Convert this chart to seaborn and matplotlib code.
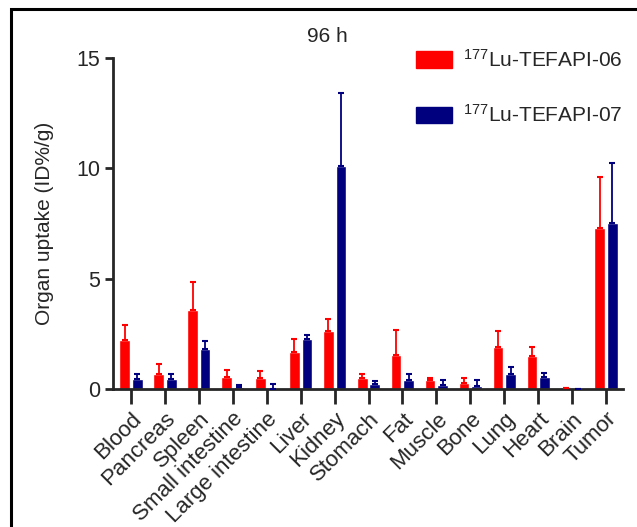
import matplotlib
matplotlib.use("Agg")
import matplotlib.pyplot as plt
import seaborn as sns
import pandas as pd
import numpy as np
from matplotlib.patches import Rectangle

organs = ["Blood", "Pancreas", "Spleen", "Small intestine", "Large intestine",
          "Liver", "Kidney", "Stomach", "Fat", "Muscle", "Bone", "Lung",
          "Heart", "Brain", "Tumor"]
series_names = [r"$^{177}$Lu-TEFAPI-06", r"$^{177}$Lu-TEFAPI-07"]
mean_06 = [2.2, 0.68, 3.6, 0.54, 0.48, 1.69, 2.62, 0.48, 1.52, 0.42, 0.29, 1.9, 1.48, 0.05, 7.3]
sd_06 = [0.7, 0.45, 1.25, 0.32, 0.35, 0.58, 0.54, 0.22, 1.17, 0.06, 0.22, 0.73, 0.42, 0.0, 2.3]
mean_07 = [0.45, 0.45, 1.82, 0.1, 0.02, 2.27, 10.12, 0.22, 0.42, 0.2, 0.13, 0.68, 0.56, 0.01, 7.52]
sd_07 = [0.25, 0.25, 0.36, 0.08, 0.19, 0.17, 3.31, 0.15, 0.28, 0.2, 0.29, 0.3, 0.18, 0.0, 2.72]
colors = ["#FF0000", "#00007F"]
yticks = [0, 5, 10, 15]

df = pd.DataFrame({
    "organ": organs * 2,
    "series": [series_names[0]] * len(organs) + [series_names[1]] * len(organs),
    "value": mean_06 + mean_07,
})

sns.set_style("ticks")
plt.rcParams["font.family"] = ["Liberation Sans", "DejaVu Sans"]
plt.rcParams["mathtext.default"] = "regular"

fig = plt.figure(figsize=(6.37, 5.27), dpi=100)
ax = fig.add_axes([113 / 637, 1 - 389 / 527, (623 - 113) / 637, (389 - 58) / 527])

sns.barplot(data=df, x="organ", y="value", hue="series", order=organs,
            hue_order=series_names, palette=colors, errorbar=None,
            width=0.74, gap=0.15, saturation=1, ax=ax, legend=True)

# upward-only error bars drawn at the bar positions
n = len(organs)
bars = [p for p in ax.patches if p.get_height() is not None][: 2 * n]
for k, (sds, col) in enumerate(zip([sd_06, sd_07], colors)):
    group = bars[k * n:(k + 1) * n]
    xs = [b.get_x() + b.get_width() / 2 for b in group]
    ys = [b.get_height() for b in group]
    ax.errorbar(xs, ys, yerr=[np.zeros(n), sds], fmt="none", ecolor=col,
                elinewidth=1.3, capsize=2.5, capthick=1.5, zorder=3)

ax.set_xlim(-0.53, n - 0.5)
ax.set_ylim(0, 15)
ax.set_yticks(yticks)
ax.set_xlabel("")
ax.set_ylabel("Organ uptake (ID%/g)", fontsize=15, labelpad=16)
sns.despine(ax=ax)
for s in ["left", "bottom"]:
    ax.spines[s].set_linewidth(2)
ax.tick_params(axis="y", length=6, width=2, labelsize=15.5, pad=3)
ax.tick_params(axis="x", length=11, width=2, labelsize=16, pad=3)
for lab in ax.get_xticklabels():
    lab.set_rotation(45)
    lab.set_ha("right")
    lab.set_rotation_mode("anchor")

ax.legend_.remove()
handles = [Rectangle((0, 0), 1, 1, color=c) for c in colors]
fig.legend(handles, series_names, loc="upper left", frameon=False,
           bbox_to_anchor=(416 / 637, 1 - 49 / 527), fontsize=15,
           handlelength=1.75, handleheight=0.85, handletextpad=0.5,
           labelspacing=1.6, borderpad=0, borderaxespad=0)

fig.text(327 / 637, 1 - 36 / 527, "96 h", ha="center", va="center", fontsize=15)

fig.patches.append(Rectangle((11 / 637, -0.1), 1.2, 1 - 9 / 527 + 0.1,
                             transform=fig.transFigure, fill=False,
                             edgecolor="black", linewidth=2.2))

fig.savefig("out.png", dpi=100)
